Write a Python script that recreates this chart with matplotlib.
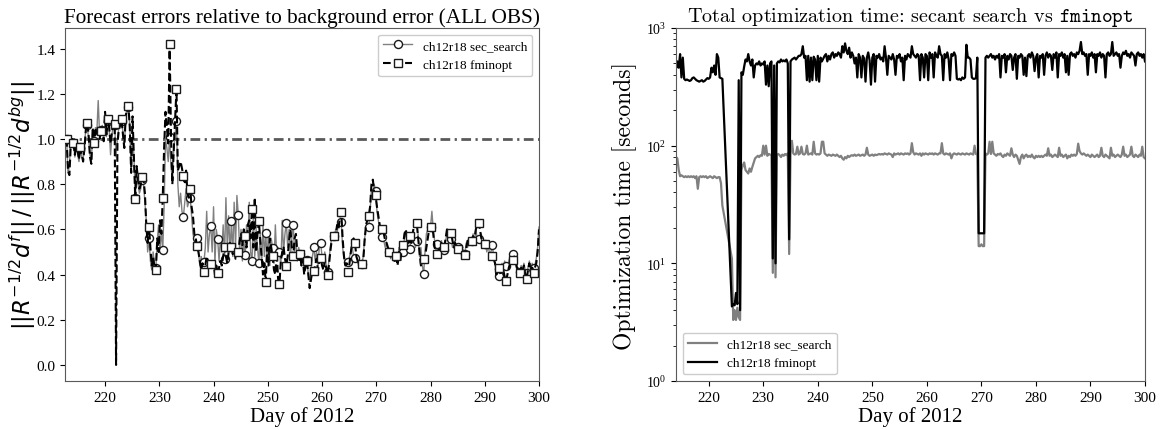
import numpy as np
import matplotlib
matplotlib.use("Agg")
import matplotlib.pyplot as plt

plt.rcParams['font.family'] = ['Liberation Serif', 'DejaVu Serif']
plt.rcParams['mathtext.fontset'] = 'stix'

# ---------------- data ----------------
left_day_first, left_day_last = 212.9, 300.0
right_day_first, right_day_last = 214.0, 300.0

# forecast error ratio, fminopt (5 samples per marker)
err_fminopt = [
    1.00, 0.86, 0.84, 0.97, 1.00,   0.98, 0.93, 0.99, 0.95, 0.91,
    0.965, 0.93, 0.90, 0.96, 1.04,  1.07, 1.02, 0.92, 0.89, 1.05,
    0.98, 1.04, 1.02, 1.06, 1.00,   1.035, 1.05, 0.99, 1.12, 1.02,
    1.09, 1.05, 0.98, 1.03, 1.07,   1.065, 0.00, 0.98, 1.04, 1.06,
    1.087, 1.02, 0.96, 1.10, 1.14,  1.147, 1.05, 0.85, 1.10, 0.92,
    0.735, 0.88, 0.82, 0.78, 0.80,  0.83, 0.82, 0.76, 0.62, 0.54,
    0.61, 0.52, 0.44, 0.48, 0.43,   0.42, 0.56, 0.50, 0.64, 0.58,
    0.74, 0.96, 1.12, 1.05, 0.98,   1.42, 1.02, 0.80, 0.95, 1.08,
    1.22, 0.86, 0.88, 0.90, 0.87,   0.835, 0.80, 0.86, 0.76, 0.74,
    0.78, 0.70, 0.66, 0.58, 0.56,   0.525, 0.50, 0.46, 0.42, 0.45,
    0.41, 0.44, 0.48, 0.46, 0.43,   0.447, 0.42, 0.45, 0.40, 0.44,
    0.405, 0.43, 0.46, 0.44, 0.48,  0.52, 0.48, 0.45, 0.50, 0.54,
    0.52, 0.49, 0.53, 0.47, 0.48,   0.50, 0.55, 0.58, 0.53, 0.60,
    0.57, 0.52, 0.62, 0.64, 0.56,   0.69, 0.52, 0.74, 0.50, 0.58,
    0.635, 0.55, 0.48, 0.40, 0.45,  0.365, 0.52, 0.44, 0.56, 0.52,
    0.48, 0.42, 0.40, 0.50, 0.38,   0.36, 0.46, 0.50, 0.52, 0.47,
    0.44, 0.48, 0.55, 0.60, 0.52,   0.48, 0.56, 0.58, 0.50, 0.46,
    0.49, 0.44, 0.47, 0.40, 0.44,   0.46, 0.40, 0.34, 0.38, 0.42,
    0.415, 0.44, 0.47, 0.42, 0.46,  0.475, 0.44, 0.42, 0.46, 0.43,
    0.40, 0.44, 0.50, 0.55, 0.56,   0.57, 0.58, 0.62, 0.60, 0.66,
    0.675, 0.56, 0.48, 0.44, 0.45,  0.41, 0.45, 0.50, 0.55, 0.56,
    0.54, 0.48, 0.46, 0.45, 0.46,   0.447, 0.46, 0.55, 0.62, 0.64,
    0.66, 0.70, 0.80, 0.82, 0.76,   0.75, 0.70, 0.66, 0.62, 0.60,
    0.60, 0.58, 0.55, 0.54, 0.52,   0.50, 0.48, 0.50, 0.47, 0.46,
    0.48, 0.44, 0.50, 0.46, 0.51,   0.53, 0.58, 0.60, 0.56, 0.54,
    0.57, 0.54, 0.58, 0.62, 0.64,   0.627, 0.56, 0.50, 0.44, 0.46,
    0.47, 0.48, 0.52, 0.56, 0.60,   0.61, 0.62, 0.58, 0.52, 0.50,
    0.49, 0.52, 0.50, 0.54, 0.51,   0.52, 0.56, 0.60, 0.57, 0.58,
    0.585, 0.55, 0.52, 0.54, 0.50,  0.513, 0.52, 0.50, 0.52, 0.49,
    0.488, 0.52, 0.55, 0.53, 0.56,  0.55, 0.57, 0.56, 0.60, 0.62,
    0.63, 0.60, 0.56, 0.55, 0.53,   0.535, 0.52, 0.54, 0.50, 0.47,
    0.48, 0.47, 0.45, 0.40, 0.42,   0.427, 0.40, 0.44, 0.42, 0.39,
    0.373, 0.40, 0.43, 0.45, 0.47,  0.466, 0.48, 0.46, 0.43, 0.42,
    0.407, 0.43, 0.41, 0.44, 0.40,  0.38, 0.42, 0.45, 0.41, 0.44,
    0.407, 0.43, 0.45, 0.50, 0.60,
]

# forecast error ratio, secant search
err_secsearch = [
    1.00, 0.85, 0.88, 1.00, 0.99,   0.98, 0.92, 0.97, 0.93, 0.90,
    0.965, 0.92, 0.91, 0.97, 1.05,  1.06, 1.00, 0.93, 0.90, 1.03,
    0.99, 1.05, 1.03, 1.17, 1.02,   1.04, 1.06, 1.00, 1.08, 1.01,
    1.08, 1.04, 0.93, 1.02, 1.06,   1.06, 0.92, 1.00, 1.05, 1.07,
    1.08, 1.03, 0.97, 1.08, 1.12,   1.14, 1.06, 0.86, 1.00, 0.93,
    0.74, 0.86, 0.80, 0.76, 0.78,   0.82, 0.80, 0.72, 0.64, 0.50,
    0.56, 0.46, 0.42, 0.50, 0.44,   0.43, 0.55, 0.62, 0.50, 0.60,
    0.51, 0.70, 1.00, 0.96, 0.90,   1.01, 0.88, 0.82, 0.95, 1.02,
    1.078, 0.80, 0.70, 0.76, 0.68,  0.655, 0.72, 0.78, 0.70, 0.72,
    0.74, 0.66, 0.58, 0.55, 0.57,   0.56, 0.50, 0.44, 0.48, 0.45,
    0.455, 0.52, 0.68, 0.50, 0.58,  0.613, 0.50, 0.70, 0.45, 0.60,
    0.557, 0.46, 0.56, 0.50, 0.62,  0.47, 0.74, 0.52, 0.66, 0.50,
    0.635, 0.48, 0.72, 0.52, 0.75,  0.665, 0.50, 0.60, 0.46, 0.55,
    0.485, 0.62, 0.55, 0.72, 0.50,  0.46, 0.66, 0.48, 0.60, 0.52,
    0.45, 0.58, 0.44, 0.62, 0.48,   0.585, 0.46, 0.60, 0.44, 0.56,
    0.518, 0.45, 0.62, 0.48, 0.52,  0.50, 0.44, 0.64, 0.50, 0.58,
    0.63, 0.52, 0.60, 0.48, 0.56,   0.62, 0.50, 0.55, 0.46, 0.52,
    0.49, 0.44, 0.50, 0.42, 0.45,   0.465, 0.40, 0.37, 0.42, 0.48,
    0.524, 0.46, 0.50, 0.44, 0.52,  0.54, 0.48, 0.45, 0.50, 0.44,
    0.41, 0.46, 0.52, 0.56, 0.55,   0.57, 0.60, 0.58, 0.64, 0.62,
    0.632, 0.52, 0.47, 0.45, 0.47,  0.455, 0.48, 0.50, 0.52, 0.48,
    0.475, 0.47, 0.45, 0.46, 0.44,  0.447, 0.48, 0.56, 0.60, 0.62,
    0.61, 0.68, 0.78, 0.74, 0.80,   0.77, 0.68, 0.64, 0.60, 0.58,
    0.565, 0.55, 0.52, 0.54, 0.50,  0.50, 0.47, 0.49, 0.46, 0.47,
    0.48, 0.46, 0.52, 0.48, 0.50,   0.50, 0.56, 0.58, 0.54, 0.52,
    0.515, 0.58, 0.54, 0.56, 0.52,  0.55, 0.58, 0.48, 0.52, 0.44,
    0.403, 0.50, 0.58, 0.60, 0.62,  0.61, 0.68, 0.60, 0.55, 0.50,
    0.536, 0.52, 0.50, 0.55, 0.50,  0.51, 0.55, 0.58, 0.55, 0.54,
    0.558, 0.52, 0.54, 0.50, 0.52,  0.52, 0.50, 0.53, 0.49, 0.51,
    0.49, 0.54, 0.52, 0.56, 0.54,   0.55, 0.58, 0.54, 0.60, 0.56,
    0.558, 0.54, 0.58, 0.52, 0.55,  0.535, 0.50, 0.53, 0.49, 0.50,
    0.53, 0.48, 0.44, 0.42, 0.40,   0.395, 0.42, 0.45, 0.43, 0.46,
    0.44, 0.42, 0.46, 0.48, 0.50,   0.493, 0.47, 0.44, 0.42, 0.43,
    0.41, 0.44, 0.42, 0.45, 0.42,   0.407, 0.43, 0.46, 0.42, 0.45,
    0.43, 0.44, 0.47, 0.52, 0.61,
]

# optimization time [s], 4 samples per day from day 214; None = missing cycle
time_fminopt = [
    450, 520, 460, 600,   380, 560, 370, 360,   365, 360, 355, 360,   375, 380, 370, 360,
    355, 350, 355, 360,   350, 355, 365, 375,   370, 380, 460, 420,   480, 400, 600, 560,
    380, 375, 370, None,  None, None, None, None,  None, 4.3, 4.5, 4.4,  5.6, 4.5, 360, 4.0,
    420, 400, 470, 540,   520, 600, 520, 480,   540, 380, 480, 500,   490, 520, 480, 500,
    490, 520, 330, 480,   320, 500, 520, 11,    480, 10, 500, 520,    510, 540, 520, 530,
    520, 540, 500, 16,    520, 540, 550, 560,   540, 560, 580, 580,   600, 700, 560, 580,
    360, 580, 350, 560,   360, 570, 540, 360,   580, 350, 560, 520,   550, 580, 600, 520,
    580, 540, 600, 620,   560, 600, 580, 620,   600, 560, 700, 620,   740, 640, 600, 680,
    560, 620, 580, 500,   560, 380, 600, 560,   380, 580, 550, 350,   560, 620, 530, 330,
    560, 600, 350, 580,   560, 600, 540, 560,   520, 700, 560, 400,   580, 560, 540, 600,
    540, 400, 580, 560,   600, 520, 560, 360,   580, 540, 600, 580,   560, 700, 600, 580,
    560, 600, 580, 360,   600, 560, 380, 600,   580, 360, 620, 560,   600, 380, 620, 580,
    560, 700, 600, 580,   360, 600, 560, 620,   540, 360, 600, 580,   620, 580, 370, 365,
    370, 360, 380, 370,   380, 720, 560, 560,   540, 380, 370, 370,   375, 560, 18, 18,
    18, 18, 18, 560,      580, 560, 580, 600,   560, 580, 540, 580,   560, 600, 380, 580,
    560, 600, 420, 580,   540, 600, 580, 440,   560, 600, 370, 580,   560, 600, 580, 400,
    560, 390, 580, 600,   560, 620, 580, 430,   560, 600, 380, 580,   560, 600, 400, 580,
    620, 560, 600, 580,   440, 600, 560, 620,   380, 600, 580, 620,   560, 600, 420, 580,
    400, 600, 620, 580,   600, 560, 620, 600,   640, 760, 600, 620,   580, 600, 400, 600,
    580, 620, 560, 600,   420, 600, 580, 620,   560, 600, 580, 380,   600, 620, 580, 600,
    760, 580, 600, 620,   580, 600, 460, 580,   620, 600, 640, 580,   600, 560, 620, 600,
    580, 480, 600, 620,   580, 600, 560, 600,   520,
]

time_secsearch = [
    80, 78, 62, 55,       56, 55, 54, 55,       54, 55, 54, 55,       54, 55, 53, 55,
    43, 54, 55, 54,       55, 54, 55, 53,       54, 55, 54, 53,       55, 54, 53, 54,
    54, 48, 31, None,     None, None, None, None,  None, 11, 3.3, 4.0,  3.3, 4.2, 3.5, 3.3,
    62, 68, 72, 62,       60, 58, 64, 60,       66, 72, 78, 80,       82, 80, 83, 82,
    100, 84, 100, 82,     85, 84, 83, 8.3,      82, 7.6, 84, 85,      83, 80, 84, 82,
    85, 83, 86, 12,       84, 110, 86, 84,      85, 98, 84, 86,       98, 85, 84, 86,
    100, 84, 85, 86,      84, 108, 86, 84,      85, 84, 86, 108,      108, 86, 84, 82,
    84, 83, 82, 84,       83, 82, 84, 82,       80, 82, 78, 76,       80, 78, 82, 80,
    82, 83, 82, 84,       82, 83, 84, 82,       83, 84, 82, 84,       96, 84, 82, 83,
    84, 82, 84, 83,       84, 85, 84, 85,       84, 86, 85, 84,       86, 85, 84, 80,
    86, 84, 85, 86,       84, 86, 85, 84,       86, 85, 86, 84,       86, 105, 88, 84,
    86, 85, 84, 86,       82, 86, 84, 86,       85, 84, 86, 85,       86, 84, 86, 85,
    84, 86, 86, 105,      86, 84, 86, 85,       84, 86, 78, 84,       86, 85, 84, 86,
    85, 84, 86, 85,       84, 86, 85, 84,       86, 85, 84, 100,      85, 84, 14, 14,
    14.5, 14, 14, 86,     84, 86, 108, 85,      108, 86, 84, 82,      85, 84, 86, 82,
    80, 84, 82, 86,       84, 82, 95, 84,       80, 84, 82, 76,       70, 80, 84, 78,
    82, 84, 80, 82,       80, 84, 80, 78,       82, 80, 82, 80,       82, 80, 82, 84,
    82, 95, 82, 84,       80, 82, 84, 82,       80, 96, 82, 84,       80, 82, 84, 78,
    82, 80, 84, 82,       84, 82, 85, 104,      90, 86, 84, 86,       84, 82, 84, 82,
    80, 84, 82, 80,       82, 84, 80, 82,       96, 82, 80, 84,       82, 80, 78, 96,
    82, 84, 80, 82,       84, 82, 80, 84,       98, 82, 84, 80,       82, 84, 98, 82,
    80, 84, 82, 80,       84, 82, 98, 80,       78,
]

label_sec = "ch12r18 sec_search"
label_fmin = "ch12r18 fminopt"

# ---------------- figure ----------------
W, H = 1166, 431
fig = plt.figure(figsize=(W / 100, H / 100), dpi=100)
ax1 = fig.add_axes([65 / W, 1 - 382 / H, (539 - 65) / W, (382 - 29) / H])
ax2 = fig.add_axes([676 / W, 1 - 382 / H, (1145 - 676) / W, (382 - 29) / H])

# left panel
dl = np.linspace(left_day_first, left_day_last, len(err_fminopt))
ax1.plot(dl, err_secsearch, '-', color='0.5', lw=1.0, marker='o', ms=5.8,
         mfc='white', mec='0.1', mew=1.0, markevery=5, label=label_sec, zorder=2)
ax1.plot(dl, err_fminopt, '--', color='black', lw=1.5, marker='s', ms=5.8,
         mfc='white', mec='0.1', mew=1.0, markevery=5, label=label_fmin, zorder=3)
ax1.axhline(1.0, color='0.35', lw=2.0, dashes=[3.5, 1.6, 0.8, 1.6], zorder=1)
ax1.set_xlim(left_day_first - 0.3, left_day_last)
ax1.set_ylim(-0.071, 1.491)
ax1.set_yticks(np.arange(0, 1.41, 0.2))
ax1.set_title("Forecast errors relative to background error (ALL OBS)", fontsize=15.3, pad=4)
ax1.set_xlabel("Day of 2012", fontsize=15, labelpad=2)
ax1.set_ylabel(r"$||R^{-1/2}d^f||\,/\,||R^{-1/2}d^{bg}||$", fontsize=16.5,
               math_fontfamily='dejavusans')
ax1.yaxis.set_label_coords(-0.058, 0.5)
ax1.legend(loc='upper right', fontsize=9.5, framealpha=1, edgecolor='0.8',
           handlelength=2.2)

# right panel
dr = np.linspace(right_day_first, right_day_last, len(time_fminopt))
ts = np.array([np.nan if v is None else v for v in time_secsearch], float)
tf = np.array([np.nan if v is None else v for v in time_fminopt], float)
ms_ = ~np.isnan(ts)
mf_ = ~np.isnan(tf)
ax2.plot(dr[ms_], ts[ms_], '-', color='0.5', lw=1.6, label=label_sec)
ax2.plot(dr[mf_], tf[mf_], '-', color='black', lw=1.6, label=label_fmin)
ax2.set_yscale('log')
ax2.set_ylim(1, 1000)
ax2.set_xlim(right_day_first, right_day_last)
ax2.set_title(r"Total optimization time: secant search vs $\mathtt{fminopt}$",
              fontsize=14.5, fontfamily='cmr10', math_fontfamily='cm', pad=4)
ax2.set_xlabel("Day of 2012", fontsize=15, labelpad=2)
ax2.set_ylabel("Optimization time [seconds]", fontsize=17, fontfamily='cmr10',
               labelpad=6)
ax2.legend(loc='lower left', fontsize=9.5, framealpha=1, edgecolor='0.8',
           handlelength=2.2)

for ax in (ax1, ax2):
    ax.set_xticks(np.arange(220, 301, 10))
    ax.tick_params(labelsize=11)
    for s in ax.spines.values():
        s.set_color('0.35')
ax2.tick_params(axis='y', which='major', labelsize=10)

fig.savefig("out.png", dpi=100)
